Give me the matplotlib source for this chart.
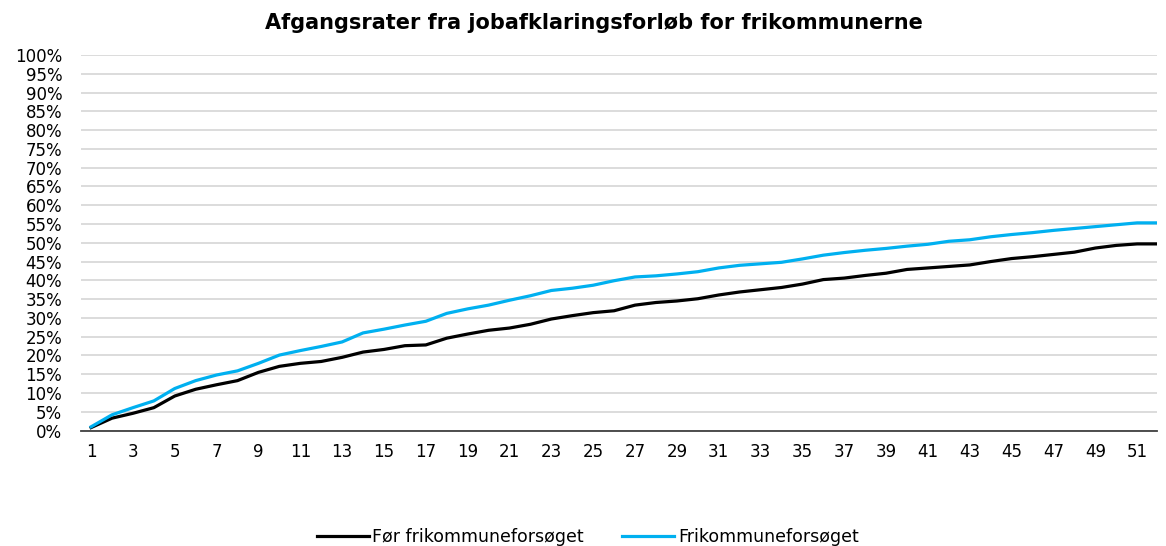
import matplotlib
matplotlib.use("Agg")
import matplotlib.pyplot as plt
from matplotlib.ticker import FixedLocator, PercentFormatter

plt.rcParams['font.family'] = ['DejaVu Sans']

title = "Afgangsrater fra jobafklaringsforløb for frikommunerne"
weeks = list(range(1, 53))
series_names = ["Før frikommuneforsøget", "Frikommuneforsøget"]

foer = [0.8, 3.3, 4.6, 6.1, 9.2, 11.0, 12.2, 13.3, 15.5, 17.1,
        17.9, 18.4, 19.5, 20.9, 21.6, 22.6, 22.8, 24.6, 25.7, 26.7,
        27.3, 28.3, 29.7, 30.6, 31.4, 31.9, 33.4, 34.1, 34.5, 35.1,
        36.1, 36.9, 37.5, 38.1, 39.0, 40.2, 40.6, 41.3, 41.9, 42.9,
        43.3, 43.7, 44.1, 45.0, 45.8, 46.3, 46.9, 47.5, 48.6, 49.3,
        49.7, 49.7]
fri = [1.0, 4.2, 6.1, 7.9, 11.2, 13.3, 14.8, 15.9, 17.9, 20.1,
       21.3, 22.4, 23.6, 26.0, 27.0, 28.1, 29.1, 31.2, 32.4, 33.4,
       34.7, 35.9, 37.3, 37.9, 38.7, 39.9, 40.9, 41.2, 41.7, 42.3,
       43.3, 44.0, 44.4, 44.8, 45.7, 46.7, 47.4, 48.0, 48.5, 49.1,
       49.6, 50.4, 50.8, 51.6, 52.2, 52.7, 53.3, 53.8, 54.3, 54.8,
       55.3, 55.3]

colors = ["#000000", "#00B0F0"]

fig = plt.figure(figsize=(11.66, 5.46), dpi=100)
ax = fig.add_axes([0.0695, 0.2114, 0.9228, 0.6879])

for vals, name, col in zip([foer, fri], series_names, colors):
    ax.plot(weeks, vals, color=col, lw=2.3, label=name, solid_joinstyle='round')

ax.set_ylim(0, 100)
ax.set_xlim(0.52, 51.95)
ax.yaxis.set_major_locator(FixedLocator(range(0, 101, 5)))
ax.yaxis.set_major_formatter(PercentFormatter(decimals=0))
ax.set_xticks(weeks[::2])
ax.set_xticklabels([str(w) for w in weeks[::2]])
ax.tick_params(axis='both', length=0, labelsize=12, colors='#000000')
ax.tick_params(axis='x', pad=9)
ax.tick_params(axis='y', pad=13.5)

ax.grid(axis='y', color='#D9D9D9', lw=1.3)
ax.set_axisbelow(True)
for s in ['top', 'right', 'left']:
    ax.spines[s].set_visible(False)
ax.spines['bottom'].set_color('#404040')
ax.spines['bottom'].set_linewidth(1.3)

fig.text(0.509, 0.958, title, ha='center', va='center', fontsize=15, fontweight='bold')

fig.legend(loc='center', bbox_to_anchor=(0.504, 0.017), ncol=2, frameon=False,
           fontsize=12.5, handlelength=3.0, columnspacing=2.2, handletextpad=0.2)

fig.savefig("out.png", dpi=100)
